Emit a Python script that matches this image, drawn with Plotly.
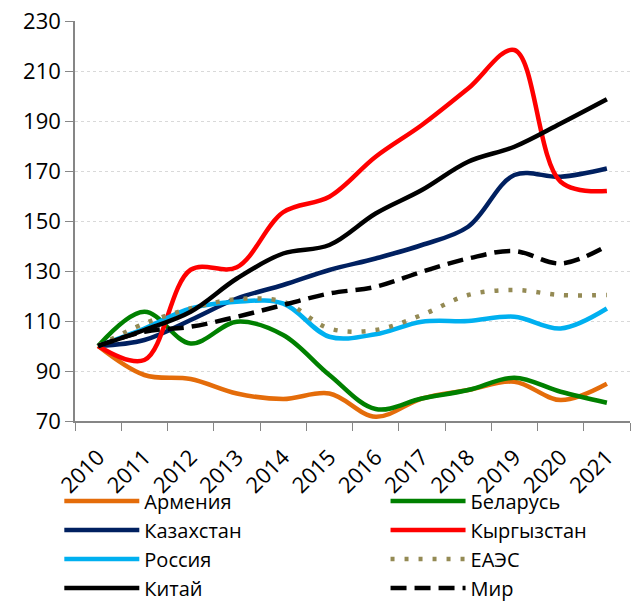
import plotly.graph_objects as go

years = [str(y) for y in range(2010, 2022)]

armenia    = [100, 88.4, 86.8, 81.0, 78.8, 81.0, 71.7, 79.0, 82.4, 85.7, 78.4, 84.9]
belarus    = [100, 113.7, 101.0, 109.7, 104.4, 88.4, 74.8, 79.0, 82.4, 87.3, 81.7, 77.3]
kazakhstan = [100, 102.4, 110.4, 119.0, 124.4, 130.4, 135.0, 140.4, 147.7, 168.4, 167.7, 171.0]
kyrgyzstan = [100, 94.4, 130.5, 131.5, 153.5, 159.7, 175.7, 188.4, 203.0, 218.4, 165.7, 162.0]
russia     = [100, 107.0, 115.0, 117.7, 117.0, 103.7, 104.7, 109.7, 110.0, 111.7, 107.0, 115.0]
eaeu       = [100, 109.0, 115.0, 118.7, 117.7, 107.0, 106.4, 112.4, 120.4, 122.4, 120.4, 120.4]
china      = [100, 106.4, 113.7, 127.0, 137.0, 140.4, 153.0, 162.4, 173.7, 179.7, 189.0, 198.7]
world      = [100, 105.7, 107.7, 111.7, 116.4, 121.0, 123.7, 129.7, 135.0, 138.0, 133.0, 140.0]

y_ticks = [70, 90, 110, 130, 150, 170, 190, 210, 230]

# name, values, colour, dash, legend column
series = [
    ("Армения", armenia, "#E46C0A", "solid", "legend"),
    ("Беларусь", belarus, "#008000", "solid", "legend2"),
    ("Казахстан", kazakhstan, "#002060", "solid", "legend"),
    ("Кыргызстан", kyrgyzstan, "#FF0000", "solid", "legend2"),
    ("Россия", russia, "#00B0F0", "solid", "legend"),
    ("ЕАЭС", eaeu, "#948A54", "4px,10px", "legend2"),
    ("Китай", china, "#000000", "solid", "legend"),
    ("Мир", world, "#000000", "16px,8px", "legend2"),
]

fig = go.Figure()
for name, vals, color, dash, lg in series:
    fig.add_trace(go.Scatter(
        x=years, y=vals, name=name, mode="lines", legend=lg,
        line=dict(color=color, width=4.5, dash=dash, shape="spline", smoothing=1.0),
    ))

font_family = "'Open Sans', Lato, sans-serif"

legend_common = dict(
    orientation="v",
    xref="container", yref="container",
    yanchor="top", xanchor="left",
    font=dict(size=20, color="#000000"), itemwidth=75,
    bgcolor="rgba(0,0,0,0)", tracegroupgap=0,
    traceorder="normal",
)

fig.update_layout(
    width=631, height=601,
    margin=dict(l=75, r=1, t=21, b=180, autoexpand=False),
    paper_bgcolor="white", plot_bgcolor="white",
    font=dict(family=font_family, size=22, color="#000000"),
    showlegend=True,
    legend=dict(legend_common, x=0.094, y=0.199),
    legend2=dict(legend_common, x=0.611, y=0.199),
    xaxis=dict(
        type="category", range=[-0.5, 11.5],
        tickson="boundaries", ticks="outside", ticklen=8, tickcolor="#868686",
        showline=True, linecolor="#868686", linewidth=1.5,
        showgrid=False, tickangle=-45, ticklabelstandoff=13,
        tickfont=dict(size=22),
    ),
    yaxis=dict(
        range=[70, 230], tickvals=y_ticks,
        ticks="outside", ticklen=8, tickcolor="#868686",
        showline=True, linecolor="#868686", linewidth=1.5,
        showgrid=True, gridcolor="#D9D9D9", griddash="dot", gridwidth=1,
        zeroline=False, tickfont=dict(size=22),
    ),
)

fig.write_html(
    "out.html",
    config={"displayModeBar": False},
    post_script="document.body.style.margin='0';document.body.style.overflow='hidden';",
)
